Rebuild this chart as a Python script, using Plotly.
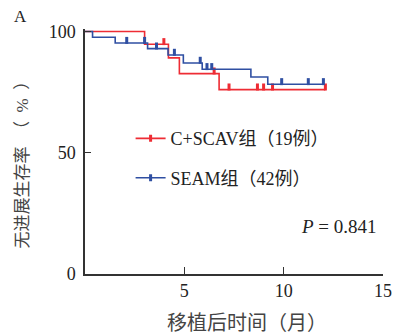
import plotly.graph_objects as go

# C+SCAV group (red)
red_time = [0, 3.0, 4.2, 4.75, 6.75, 12.1]
red_surv = [100, 94.7, 89.1, 82.6, 76.0, 76.0]
red_cens_t = [3.97, 6.5, 7.25, 8.68, 8.99, 9.44, 12.1]
red_cens_s = [94.7, 82.6, 76.0, 76.0, 76.0, 76.0, 76.0]

# SEAM group (blue)
blue_time = [0, 0.38, 1.52, 3.15, 4.18, 4.95, 5.9, 8.35, 9.2, 12.0]
blue_surv = [100, 97.6, 95.2, 92.9, 90.3, 87.0, 84.4, 81.2, 78.2, 78.2]
blue_cens_t = [2.1, 3.0, 3.6, 4.5, 5.8, 6.14, 6.38, 9.9, 11.24, 12.0]
blue_cens_s = [95.2, 95.2, 92.9, 90.3, 87.0, 84.4, 84.4, 78.2, 78.2, 78.2]

x_ticks = [5, 10, 15]
y_ticks = [0, 50, 100]

RED = "#EE2C34"
BLUE = "#2F4FA2"
FONT = "Liberation Serif, Noto Sans CJK SC"
TXT = "#222222"
tick_lift = 1.1

fig = go.Figure()

for t, s, ct, cs, col, name in [
    (red_time, red_surv, red_cens_t, red_cens_s, RED, "C+SCAV组（19例）"),
    (blue_time, blue_surv, blue_cens_t, blue_cens_s, BLUE, "SEAM组（42例）"),
]:
    fig.add_trace(go.Scatter(x=t, y=s, mode="lines", line=dict(color=col, width=1.6, shape="hv"),
                             showlegend=False, hoverinfo="skip"))
    fig.add_trace(go.Scatter(x=ct, y=[v + tick_lift for v in cs], mode="markers",
                             marker=dict(symbol="line-ns", size=5, line=dict(color=col, width=3)),
                             showlegend=False, cliponaxis=False, hoverinfo="skip"))
    fig.add_trace(go.Scatter(x=[None], y=[None], mode="lines+markers", name=name,
                             legendgroup=name,
                             line=dict(color=col, width=1.6),
                             marker=dict(symbol="line-ns", size=5, line=dict(color=col, width=3))))

# body margin of the page is 8px, so the figure is drawn offset by (8, 8)
fig.update_layout(
    width=392, height=325,
    margin=dict(l=77, r=8, t=21, b=59),
    paper_bgcolor="white", plot_bgcolor="white",
    font=dict(family=FONT, size=18, color=TXT),
    legend=dict(x=0.153, y=0.628, xanchor="left", yanchor="top", bgcolor="rgba(0,0,0,0)",
                font=dict(family=FONT, size=18, color=TXT), tracegroupgap=13, itemwidth=30),
    xaxis=dict(range=[0, 15], tickvals=x_ticks, ticks="inside", ticklen=7, tickcolor="#333",
               showline=True, linecolor="#333", linewidth=1.5, showgrid=False, zeroline=False,
               tickfont=dict(family=FONT, size=18, color=TXT), ticklabeloverflow="allow"),
    yaxis=dict(range=[0, 101], tickvals=y_ticks, ticks="inside", ticklen=6, tickcolor="#333",
               showline=True, linecolor="#333", linewidth=1.5, showgrid=False, zeroline=False,
               tickfont=dict(family=FONT, size=18, color=TXT), ticklabelstandoff=4),
    annotations=[
        dict(text="A", x=-0.217, y=1.05, xref="paper", yref="paper", showarrow=False,
             font=dict(family=FONT, size=17, color=TXT), xanchor="center", yanchor="middle"),
        dict(text="<i>P</i> = 0.841", x=0.852, y=0.192, xref="paper", yref="paper", showarrow=False,
             font=dict(family=FONT, size=19, color=TXT), xanchor="center", yanchor="middle"),
        dict(text="无进展生存率\u2002（\u2002%\u2002）", x=-0.21, y=0.465, xref="paper", yref="paper",
             showarrow=False, textangle=-90, font=dict(family=FONT, size=17, color="#444"),
             xanchor="center", yanchor="middle"),
        dict(text="移植后时间（月）", x=0.543, y=-0.2, xref="paper", yref="paper", showarrow=False,
             font=dict(family=FONT, size=20, color="#444"), xanchor="center", yanchor="middle"),
    ],
)

fig.write_html("out.html")
